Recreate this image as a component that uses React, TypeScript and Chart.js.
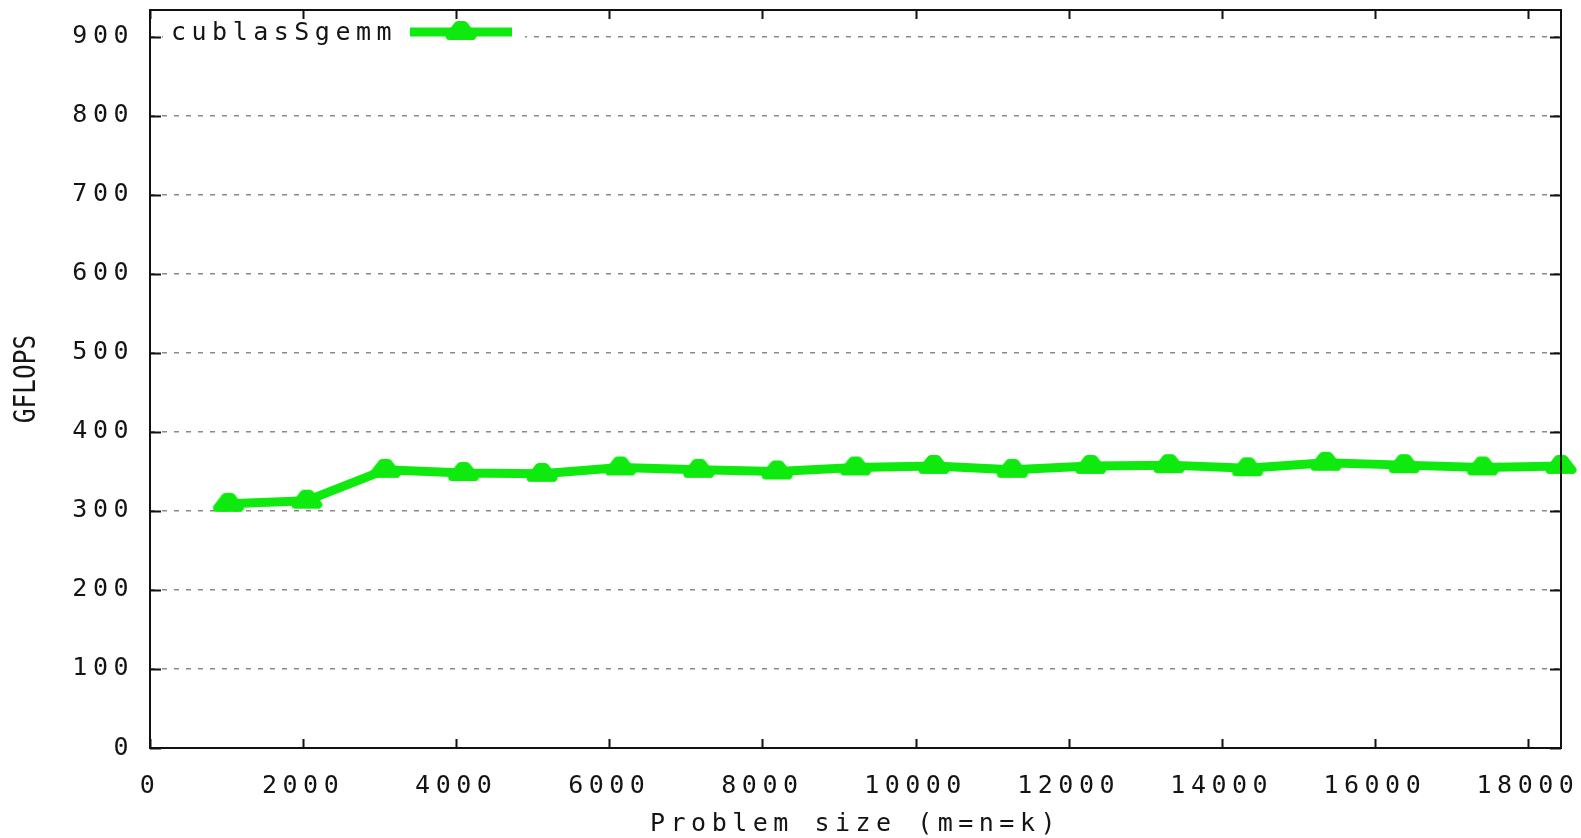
import React, { useEffect, useRef } from 'react';
import { Chart, registerables } from 'chart.js';

Chart.register(...registerables);

// ---- data ----
const problemSizes = [1024, 2048, 3072, 4096, 5120, 6144, 7168, 8192, 9216, 10240, 11264, 12288, 13312, 14336, 15360, 16384, 17408, 18432];
const gflops = [309, 313, 352, 348, 347, 355, 352, 350, 355, 357, 352, 357, 358, 354, 361, 358, 355, 357];
const xTickValues = [0, 2000, 4000, 6000, 8000, 10000, 12000, 14000, 16000, 18000];
const yTickValues = [0, 100, 200, 300, 400, 500, 600, 700, 800, 900];
const seriesLabel = 'cublasSgemm';
const xTitle = 'Problem size (m=n=k)';
const yTitle = 'GFLOPS';
const xMax = 18432;
const yMax = 934;

const GREEN = 'rgb(14, 234, 14)';
const TEXT = '#141414';
const FONT_FAMILY = '"DejaVu Sans Mono", monospace';
const SPACING = '5.5px';

function makeMarker(color: string): HTMLCanvasElement {
  const c = document.createElement('canvas');
  c.width = 40;
  c.height = 40;
  const g = c.getContext('2d')!;
  g.translate(20, 20);
  g.beginPath();
  g.moveTo(-3, -7);
  g.lineTo(3, -7);
  g.lineTo(11.5, 4);
  g.lineTo(-11.5, 4);
  g.closePath();
  g.fillStyle = color;
  g.strokeStyle = color;
  g.lineWidth = 8;
  g.lineJoin = 'round';
  g.fill();
  g.stroke();
  return c;
}

export default function App() {
  const ref = useRef<HTMLCanvasElement | null>(null);

  useEffect(() => {
    if (!ref.current) return;
    const marker = makeMarker(GREEN);

    const spacingPlugin = {
      id: 'spacing',
      beforeUpdate(chart: any) {
        chart.ctx.letterSpacing = SPACING;
      },
      beforeDraw(chart: any) {
        chart.ctx.letterSpacing = SPACING;
      },
    };

    const gnuplotPlugin = {
      id: 'gnuplotFrame',
      beforeDatasetsDraw(chart: any) {
        const ctx = chart.ctx;
        const { left, top } = chart.chartArea;
        ctx.save();
        ctx.fillStyle = '#ffffff';
        ctx.fillRect(left + 13, top + 12, 362, 36);
        ctx.restore();
      },
      afterDraw(chart: any) {
        const ctx = chart.ctx;
        const { left, right, top, bottom } = chart.chartArea;
        const xs = chart.scales.x;
        const ys = chart.scales.y;
        ctx.save();
        ctx.letterSpacing = '0px';
        // frame
        ctx.strokeStyle = '#111';
        ctx.lineWidth = 2;
        ctx.strokeRect(left, top, right - left, bottom - top);
        // inward tick marks, mirrored
        ctx.beginPath();
        yTickValues.forEach((v) => {
          const y = Math.round(ys.getPixelForValue(v)) + 0.5;
          ctx.moveTo(left, y);
          ctx.lineTo(left + 11, y);
          ctx.moveTo(right, y);
          ctx.lineTo(right - 11, y);
        });
        xTickValues.forEach((v) => {
          const x = Math.round(xs.getPixelForValue(v)) + 0.5;
          ctx.moveTo(x, bottom);
          ctx.lineTo(x, bottom - 9);
          ctx.moveTo(x, top);
          ctx.lineTo(x, top + 9);
        });
        ctx.stroke();

        // key (legend)
        const ky = top + 22;
        ctx.letterSpacing = SPACING;
        ctx.font = `25px ${FONT_FAMILY}`;
        ctx.fillStyle = TEXT;
        ctx.textAlign = 'left';
        ctx.textBaseline = 'middle';
        ctx.fillText(seriesLabel, left + 21, ky + 1);
        ctx.letterSpacing = '0px';
        ctx.strokeStyle = GREEN;
        ctx.lineWidth = 9;
        ctx.beginPath();
        ctx.moveTo(left + 260, ky);
        ctx.lineTo(left + 362, ky);
        ctx.stroke();
        ctx.drawImage(marker, left + 311 - marker.width / 2, ky - marker.height / 2);

        // y title (tall, narrow glyphs)
        ctx.save();
        ctx.translate(26, (top + bottom) / 2);
        ctx.rotate(-Math.PI / 2);
        ctx.scale(0.815, 1);
        ctx.font = `30px ${FONT_FAMILY}`;
        ctx.fillStyle = TEXT;
        ctx.textAlign = 'center';
        ctx.textBaseline = 'middle';
        ctx.fillText(yTitle, 0, 1);
        ctx.restore();

        ctx.restore();
      },
    };

    const chart = new Chart(ref.current, {
      type: 'line',
      data: {
        datasets: [
          {
            label: seriesLabel,
            data: problemSizes.map((x, i) => ({ x, y: gflops[i] })),
            borderColor: GREEN,
            backgroundColor: GREEN,
            borderWidth: 9,
            borderJoinStyle: 'round',
            pointStyle: marker as any,
            pointRadius: 10,
            pointHoverRadius: 10,
            pointBorderWidth: 0,
            tension: 0,
            clip: false as any,
          } as any,
        ],
      },
      options: {
        responsive: false,
        animation: false,
        events: [],
        layout: { autoPadding: false, padding: { left: 0, top: 10, right: 20, bottom: 0 } },
        plugins: {
          legend: { display: false },
          tooltip: { enabled: false },
          title: { display: false },
        },
        scales: {
          x: {
            type: 'linear',
            min: 0,
            max: xMax,
            afterFit(scale: any) {
              scale.height = 90;
              scale.paddingLeft = 0;
              scale.paddingRight = 0;
            },
            afterBuildTicks(scale: any) {
              scale.ticks = xTickValues.map((v) => ({ value: v }));
            },
            grid: { display: false },
            border: { display: false },
            ticks: {
              autoSkip: false,
              maxRotation: 0,
              minRotation: 0,
              padding: 15,
              color: TEXT,
              font: { family: FONT_FAMILY, size: 25 },
              callback: (v: any) => String(v),
            },
            title: {
              display: true,
              text: xTitle,
              color: TEXT,
              font: { family: FONT_FAMILY, size: 25, lineHeight: 1 },
              padding: { top: 0, bottom: 1.5 },
            },
          },
          y: {
            type: 'linear',
            min: 0,
            max: yMax,
            afterFit(scale: any) {
              scale.width = 150;
              scale.paddingTop = 0;
              scale.paddingBottom = 0;
            },
            afterBuildTicks(scale: any) {
              scale.ticks = yTickValues.map((v) => ({ value: v }));
            },
            grid: {
              display: true,
              drawTicks: false,
              drawOnChartArea: true,
              color: '#8a8a8a',
              lineWidth: 1.5,
            },
            border: { display: false, dash: [5, 7] },
            ticks: {
              padding: 16,
              color: TEXT,
              font: { family: FONT_FAMILY, size: 25, lineHeight: 0.6 },
              callback: (v: any) => String(v),
            },
            title: { display: false },
          },
        },
      },
      plugins: [spacingPlugin, gnuplotPlugin],
    } as any);

    return () => chart.destroy();
  }, []);

  return (
    <div style={{ position: 'fixed', left: 0, top: 0, width: 1581, height: 838, background: '#fff' }}>
      <canvas ref={ref} width={1581} height={838} style={{ display: 'block' }} />
    </div>
  );
}
